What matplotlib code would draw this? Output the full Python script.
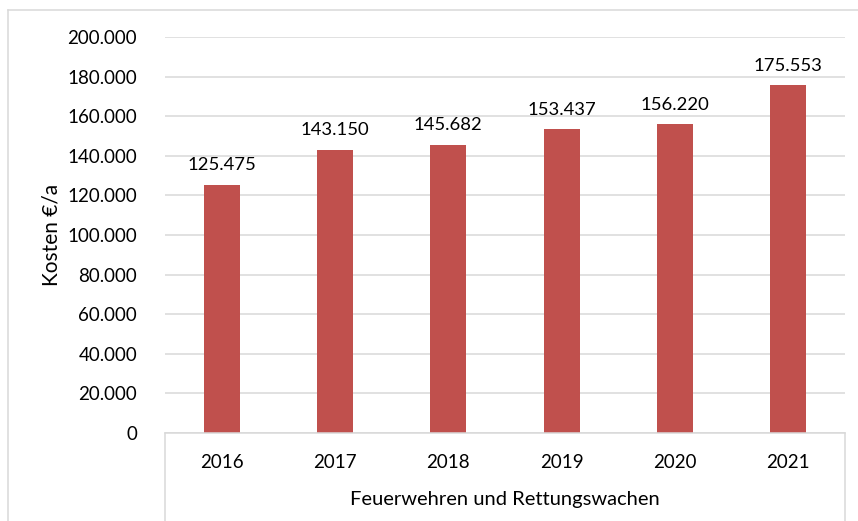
import matplotlib
matplotlib.use("Agg")
import matplotlib.pyplot as plt
from matplotlib.lines import Line2D
from matplotlib.ticker import FuncFormatter

jahre = ["2016", "2017", "2018", "2019", "2020", "2021"]
kosten = [125475, 143150, 145682, 153437, 156220, 175553]
gruppe = "Feuerwehren und Rettungswachen"
y_titel = "Kosten €/a"

def de(v):
    return "{:,.0f}".format(v).replace(",", ".")

plt.rcParams['font.family'] = ['Lato', 'DejaVu Sans']
W, H = 858, 521
fig = plt.figure(figsize=(W / 100, H / 100), dpi=100)
ax = fig.add_axes([165 / W, 1 - 433 / H, 680 / W, (433 - 37) / H])

grid_c = "#D9D9D9"
bar_c = "#C0504D"

x = list(range(len(jahre)))
ax.bar(x, kosten, width=0.32, color=bar_c, zorder=3)
for xi, v in zip(x, kosten):
    ax.annotate(de(v), (xi, v), xytext=(0, 8), textcoords="offset points",
                ha="center", va="bottom", fontsize=13.3, color="#000000")

ax.set_xlim(-0.5, len(jahre) - 0.5)
ax.set_ylim(0, 200000)
ax.set_yticks(range(0, 200001, 20000))
ax.yaxis.set_major_formatter(FuncFormatter(lambda v, p: de(v)))
ax.set_xticks(x)
ax.set_xticklabels(jahre)
ax.tick_params(axis="both", length=0, labelsize=13.5, colors="#000000")
ax.tick_params(axis="y", pad=20)
ax.tick_params(axis="x", pad=15)
ax.grid(axis="y", color=grid_c, linewidth=1.1, zorder=0)
for s in ["left", "right", "top"]:
    ax.spines[s].set_visible(False)
ax.spines["bottom"].set_color(grid_c)
ax.spines["bottom"].set_linewidth(1.1)
ax.spines["bottom"].set_zorder(4)

# Kategorie-Kasten unter der Achse
for px in [165, 845]:
    fig.add_artist(Line2D([px / W, px / W], [0, 1 - 433 / H], color=grid_c, linewidth=1.1))

fig.text(505 / W, 1 - 500 / H, gruppe, ha="center", va="center", fontsize=14.5)
fig.text(52 / W, 1 - 235 / H, y_titel, ha="center", va="center", rotation=90, fontsize=15)

# Rahmen
fig.add_artist(Line2D([8 / W, 1], [1 - 10 / H, 1 - 10 / H], color=grid_c, linewidth=1.1))
fig.add_artist(Line2D([8 / W, 8 / W], [0, 1 - 10 / H], color=grid_c, linewidth=1.1))

fig.savefig("out.png", dpi=100)
